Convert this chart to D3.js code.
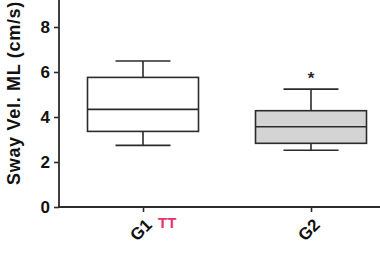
<!DOCTYPE html>
<html>
<head>
<meta charset="utf-8">
<script src="https://cdn.jsdelivr.net/npm/d3@7"></script>
<style>
  body { margin: 0; background: #fff; }
  svg { display: block; font-family: "Liberation Sans", Arial, sans-serif; }
</style>
</head>
<body>
<svg id="chart" width="380" height="255"></svg>
<script>
// data
var groups = ["G1", "G2"];
var whiskerLow = [2.74, 2.52];
var q1 = [3.36, 2.83];
var median = [4.34, 3.57];
var q3 = [5.76, 4.28];
var whiskerHigh = [6.49, 5.24];
var fills = ["#ffffff", "#d4d4d4"];
var yTicks = [0, 2, 4, 6, 8];
var starGroup = "G2";
var starValue = 5.47;

var svg = d3.select("#chart");
var ink = "#2b2b2b";

var x = d3.scalePoint().domain(groups).range([59, 395]).padding(0.5);
var y = d3.scaleLinear().domain([0, 8]).range([207, 27]);
var boxW = 111, capW = 55;

// y axis
var yAxis = svg.append("g")
  .attr("transform", "translate(59,0)")
  .call(d3.axisLeft(y).tickValues(yTicks).tickFormat(d3.format("d")).tickSize(5).tickPadding(4));
yAxis.select(".domain").remove();
yAxis.selectAll(".tick line").attr("stroke", ink).attr("stroke-width", 1.6);
yAxis.selectAll(".tick text")
  .attr("fill", "#111")
  .style("font-size", "17px")
  .style("font-weight", "bold");

svg.append("line")
  .attr("x1", 59).attr("x2", 59)
  .attr("y1", 0).attr("y2", y(0))
  .attr("stroke", ink).attr("stroke-width", 1.8);

// x axis
var xAxis = svg.append("g")
  .attr("transform", "translate(0," + y(0) + ")")
  .call(d3.axisBottom(x).tickSize(5).tickFormat(""));
xAxis.select(".domain").remove();
xAxis.selectAll(".tick line").attr("stroke", ink).attr("stroke-width", 1.6);

svg.append("line")
  .attr("x1", 58).attr("x2", 380)
  .attr("y1", y(0)).attr("y2", y(0))
  .attr("stroke", ink).attr("stroke-width", 1.8);

// rotated category labels
svg.selectAll(".xlab")
  .data(groups)
  .enter().append("text")
  .attr("class", "xlab")
  .attr("transform", d => "translate(" + (x(d) + 1) + "," + (y(0) + 10) + ") rotate(-45)")
  .attr("text-anchor", "end")
  .attr("dy", "0.75em")
  .attr("fill", "#111")
  .style("font-size", "17px")
  .style("font-weight", "bold")
  .text(d => d);

svg.append("text")
  .attr("x", 158).attr("y", 228)
  .attr("fill", "#e5336c")
  .style("font-size", "15px")
  .style("font-weight", "bold")
  .text("TT");

// y title
svg.append("text")
  .attr("transform", "translate(20,93) rotate(-90)")
  .attr("text-anchor", "middle")
  .attr("fill", "#111")
  .style("font-size", "18px")
  .style("font-weight", "bold")
  .style("letter-spacing", "0.7px")
  .text("Sway Vel. ML (cm/s)");

// boxes
var box = svg.selectAll(".box")
  .data(groups)
  .enter().append("g")
  .attr("class", "box");

box.append("line")
  .attr("x1", d => x(d)).attr("x2", d => x(d))
  .attr("y1", (d, i) => y(whiskerHigh[i])).attr("y2", (d, i) => y(q3[i]))
  .attr("stroke", ink).attr("stroke-width", 1.6);
box.append("line")
  .attr("x1", d => x(d)).attr("x2", d => x(d))
  .attr("y1", (d, i) => y(q1[i])).attr("y2", (d, i) => y(whiskerLow[i]))
  .attr("stroke", ink).attr("stroke-width", 1.6);
box.append("line")
  .attr("x1", d => x(d) - capW / 2).attr("x2", d => x(d) + capW / 2)
  .attr("y1", (d, i) => y(whiskerHigh[i])).attr("y2", (d, i) => y(whiskerHigh[i]))
  .attr("stroke", ink).attr("stroke-width", 1.6);
box.append("line")
  .attr("x1", d => x(d) - capW / 2).attr("x2", d => x(d) + capW / 2)
  .attr("y1", (d, i) => y(whiskerLow[i])).attr("y2", (d, i) => y(whiskerLow[i]))
  .attr("stroke", ink).attr("stroke-width", 1.6);
box.append("rect")
  .attr("x", d => x(d) - boxW / 2)
  .attr("width", boxW)
  .attr("y", (d, i) => y(q3[i]))
  .attr("height", (d, i) => y(q1[i]) - y(q3[i]))
  .attr("fill", (d, i) => fills[i])
  .attr("stroke", ink).attr("stroke-width", 1.6);
box.append("line")
  .attr("x1", d => x(d) - boxW / 2).attr("x2", d => x(d) + boxW / 2)
  .attr("y1", (d, i) => y(median[i])).attr("y2", (d, i) => y(median[i]))
  .attr("stroke", ink).attr("stroke-width", 1.6);

// significance star
svg.append("text")
  .attr("x", x(starGroup)).attr("y", y(starValue))
  .attr("text-anchor", "middle")
  .attr("fill", ink)
  .style("font-size", "17px")
  .style("font-weight", "bold")
  .text("*");
</script>
</body>
</html>
